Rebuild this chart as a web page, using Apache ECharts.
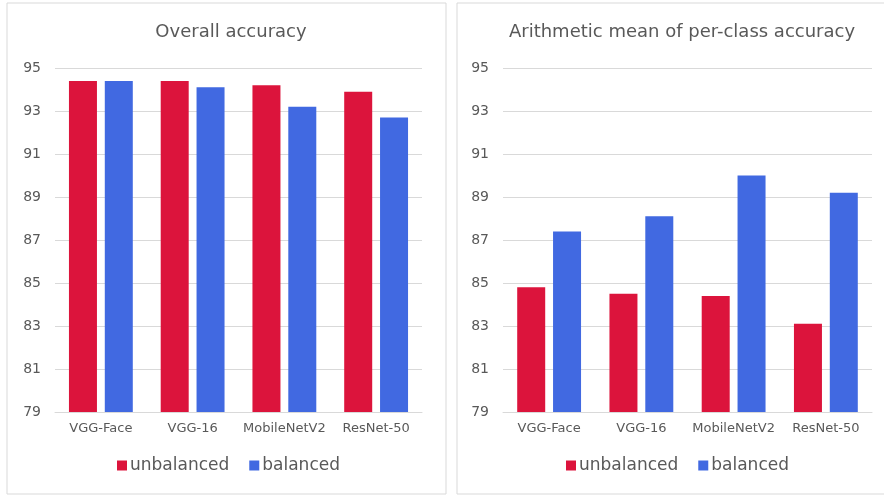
<!DOCTYPE html>
<html>
<head>
<meta charset="utf-8">
<script src="https://cdn.jsdelivr.net/npm/echarts@6/dist/echarts.min.js"></script>
<style>
html,body{margin:0;padding:0;background:#fff;}
#c{width:884px;height:495px;}
</style>
</head>
<body>
<div id="c"></div>
<script>
const categories = ['VGG-Face', 'VGG-16', 'MobileNetV2', 'ResNet-50'];
const overallUnbalanced = [94.4, 94.4, 94.2, 93.9];
const overallBalanced = [94.4, 94.1, 93.2, 92.7];
const meanUnbalanced = [84.8, 84.5, 84.4, 83.1];
const meanBalanced = [87.4, 88.1, 90.0, 89.2];
const titles = ['Overall accuracy', 'Arithmetic mean of per-class accuracy'];
const seriesNames = ['unbalanced', 'balanced'];

const RED = '#DC143C', BLUE = '#4169E1', TXT = '#595959', GRID = '#d9d9d9';
const FONT = 'DejaVu Sans';

const chart = echarts.init(document.getElementById('c'), null, {renderer: 'canvas'});

function xAxis(gi) {
  return {
    type: 'category', gridIndex: gi, data: categories,
    axisLine: {lineStyle: {color: GRID, width: 1}},
    axisTick: {show: false},
    axisLabel: {color: TXT, fontSize: 13, fontFamily: FONT, margin: 10, interval: 0}
  };
}
function yAxis(gi) {
  return {
    type: 'value', gridIndex: gi, min: 79, max: 95, interval: 2,
    axisLine: {show: false}, axisTick: {show: false},
    splitLine: {lineStyle: {color: GRID, width: 1}},
    axisLabel: {color: TXT, fontSize: 14, fontFamily: FONT, margin: 14}
  };
}
function bar(name, data, color, gi) {
  return {
    type: 'bar', name: name, data: data, xAxisIndex: gi, yAxisIndex: gi,
    barWidth: 28, barGap: '28%',
    itemStyle: {color: color, borderRadius: 0}
  };
}
function legend(left) {
  return {data: seriesNames, left: left, top: 457, padding: 0, itemWidth: 10, itemHeight: 10, itemGap: 20, icon: 'rect',
    textStyle: {color: TXT, fontSize: 17, fontFamily: FONT, padding: [0,0,0,-2]}};
}

chart.setOption({
  animation: false,
  textStyle: {fontFamily: FONT},
  graphic: [
    {type: 'rect', shape: {x: 7, y: 3, width: 439, height: 491}, style: {fill: 'none', stroke: '#d9d9d9', lineWidth: 1}},
    {type: 'rect', shape: {x: 457, y: 3, width: 440, height: 491}, style: {fill: 'none', stroke: '#d9d9d9', lineWidth: 1}}
  ],
  title: [
    {text: titles[0], left: 226, top: 18, textAlign: 'center', textStyle: {color: TXT, fontSize: 18, fontWeight: 'normal', fontFamily: FONT}},
    {text: titles[1], left: 677, top: 18, textAlign: 'center', textStyle: {color: TXT, fontSize: 18, fontWeight: 'normal', fontFamily: FONT}}
  ],
  legend: [legend(117), legend(566)],
  grid: [
    {left: 55, right: 462, top: 68, bottom: 83},
    {left: 503, right: 12, top: 68, bottom: 83}
  ],
  xAxis: [xAxis(0), xAxis(1)],
  yAxis: [yAxis(0), yAxis(1)],
  series: [
    bar(seriesNames[0], overallUnbalanced, RED, 0),
    bar(seriesNames[1], overallBalanced, BLUE, 0),
    bar(seriesNames[0], meanUnbalanced, RED, 1),
    bar(seriesNames[1], meanBalanced, BLUE, 1)
  ]
});
</script>
</body>
</html>
